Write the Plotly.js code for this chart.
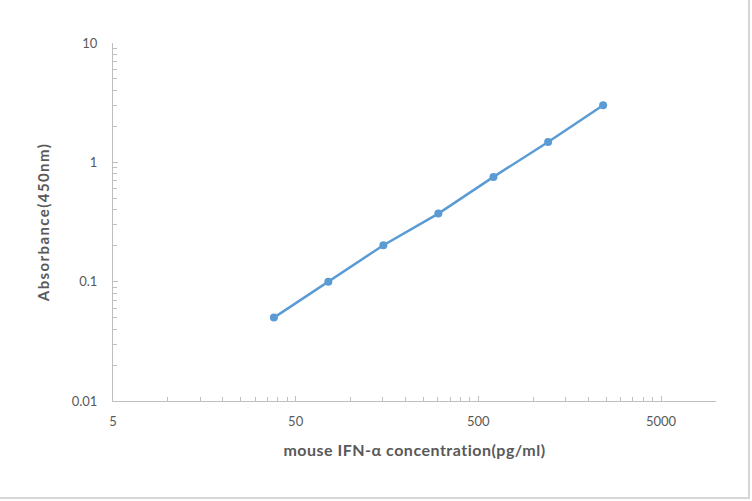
<!DOCTYPE html>
<html>
<head>
<meta charset="utf-8">
<script src="https://cdn.plot.ly/plotly-3.0.1.min.js"></script>
<style>
  html, body { margin: 0; padding: 0; background: #fff; }
  #wrap { position: relative; width: 752px; height: 501px; }
  #chart { width: 752px; height: 501px; }
  #frame { position: absolute; left: 0; top: 0; width: 748px; height: 497px;
           border-right: 2px solid #d6d6d6; border-bottom: 2px solid #d6d6d6; pointer-events: none; }
  .ytitle { letter-spacing: 1.4px; }
  .xtitle { letter-spacing: 0.5px; }
</style>
</head>
<body>
<div id="wrap">
  <div id="chart"></div>
  <div id="frame"></div>
</div>
<script>
// Data
const concentration = [38, 75.5, 151, 302, 605, 1205, 2410];   // pg/ml
const absorbance    = [0.05, 0.1, 0.202, 0.372, 0.755, 1.48, 3.01]; // OD 450nm

const xTickVals = [5, 50, 500, 5000];
const xTickText = ['5', '50', '500', '5000'];
const yTickVals = [0.01, 0.1, 1, 10];
const yTickText = ['0.01', '0.1', '1', '10'];

// minor tick positions (axis configuration)
const xMinor = [];
for (let d = 5; d <= 5000; d *= 10) {
  for (let k = 2; k <= 9; k++) { if (d * k <= 10000) xMinor.push(d * k); }
}
const yMinor = [];
for (let d = 0.01; d < 10; d *= 10) {
  for (let k = 2; k <= 9; k++) yMinor.push(+(d * k).toPrecision(3));
}

const axisGray = '#bfbfbf';
const textGray = '#595959';
const fontFam = 'Lato, "Open Sans", "Noto Sans", sans-serif';

const trace = {
  x: concentration,
  y: absorbance,
  type: 'scatter',
  mode: 'lines+markers',
  line: { color: '#5b9bd5', width: 2.5 },
  marker: { color: '#5b9bd5', size: 8 },
  hoverinfo: 'x+y'
};

const layout = {
  width: 752,
  height: 501,
  margin: { l: 113, r: 36, t: 43, b: 100 },
  paper_bgcolor: '#ffffff',
  plot_bgcolor: '#ffffff',
  showlegend: false,
  font: { family: fontFam, color: textGray, size: 13 },
  xaxis: {
    type: 'log',
    range: [Math.log10(5), 4],
    tickmode: 'array',
    tickvals: xTickVals,
    ticktext: xTickText,
    ticks: 'inside',
    ticklen: 5,
    tickcolor: axisGray,
    tickwidth: 1,
    minor: { tickmode: 'array', tickvals: xMinor, ticks: 'inside', ticklen: 4, tickcolor: axisGray, tickwidth: 1, showgrid: false },
    showline: true,
    linecolor: axisGray,
    linewidth: 1,
    showgrid: false,
    zeroline: false,
    tickfont: { family: fontFam, size: 13, color: textGray },
    ticklabelstandoff: 8,
    title: {
      text: 'mouse IFN-α concentration(pg/ml)',
      font: { family: fontFam, size: 16, color: textGray, weight: 'bold' },
      standoff: 17
    }
  },
  yaxis: {
    type: 'log',
    range: [-2, 1],
    tickmode: 'array',
    tickvals: yTickVals,
    ticktext: yTickText,
    ticks: 'inside',
    ticklen: 5,
    tickcolor: axisGray,
    tickwidth: 1,
    minor: { tickmode: 'array', tickvals: yMinor, ticks: 'inside', ticklen: 4, tickcolor: axisGray, tickwidth: 1, showgrid: false },
    showline: true,
    linecolor: axisGray,
    linewidth: 1,
    showgrid: false,
    zeroline: false,
    tickfont: { family: fontFam, size: 13, color: textGray },
    ticklabelstandoff: 12,
    title: {
      text: 'Absorbance(450nm)',
      font: { family: fontFam, size: 15, color: textGray, weight: 'bold' },
      standoff: 18
    }
  }
};

Plotly.newPlot('chart', [trace], layout, { displayModeBar: false, staticPlot: true });
</script>
</body>
</html>
